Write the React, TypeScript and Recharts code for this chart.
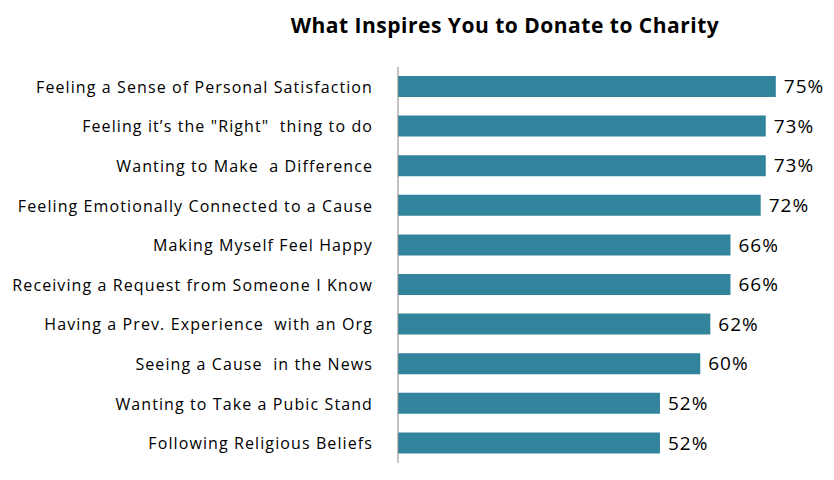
import { BarChart, Bar, XAxis, YAxis, LabelList } from 'recharts'

const reasons = [
  'Feeling a Sense of Personal Satisfaction',
  'Feeling it\u2019s the "Right"  thing to do',
  'Wanting to Make  a Difference',
  'Feeling Emotionally Connected to a Cause',
  'Making Myself Feel Happy',
  'Receiving a Request from Someone I Know',
  'Having a Prev. Experience  with an Org',
  'Seeing a Cause  in the News',
  'Wanting to Take a Pubic Stand',
  'Following Religious Beliefs',
]

const shares = [75, 73, 73, 72, 66, 66, 62, 60, 52, 52]

const data = reasons.map((reason, i) => ({ reason, share: shares[i] }))

const FONT = '"Open Sans", Lato, sans-serif'
const BAR = '#31849b'

const ReasonTick = ({ x, y, payload }: any) => (
  <text
    x={x - 17}
    y={y}
    dy={6}
    textAnchor="end"
    fontFamily={FONT}
    fontSize={16}
    letterSpacing={1.1}
    fill="#000"
    style={{ whiteSpace: 'pre' }}
  >
    {payload.value}
  </text>
)

export default function App() {
  return (
    <div style={{ position: 'absolute', left: 0, top: 0, width: 834, height: 480, background: '#fff' }}>
      <div
        style={{
          position: 'absolute',
          top: 11,
          left: 0,
          width: 1010,
          textAlign: 'center',
          fontFamily: FONT,
          fontWeight: 700,
          fontSize: 21,
          letterSpacing: 0.5,
          color: '#000',
        }}
      >
        What Inspires You to Donate to Charity
      </div>
      <BarChart
        width={834}
        height={480}
        data={data}
        layout="vertical"
        margin={{ top: 67, right: 33, bottom: 17, left: 0 }}
      >
        <XAxis type="number" domain={[0, 80]} hide />
        <YAxis
          type="category"
          dataKey="reason"
          width={398}
          tick={<ReasonTick />}
          tickLine={false}
          axisLine={{ stroke: '#868686', strokeWidth: 1 }}
          interval={0}
        />
        <Bar dataKey="share" fill={BAR} barSize={21} isAnimationActive={false}>
          <LabelList
            dataKey="share"
            position="right"
            offset={8}
            formatter={(v: any) => `${v}%`}
            style={{ fontFamily: FONT, fontSize: 19, letterSpacing: 1, fill: '#000' }}
          />
        </Bar>
      </BarChart>
    </div>
  )
}
